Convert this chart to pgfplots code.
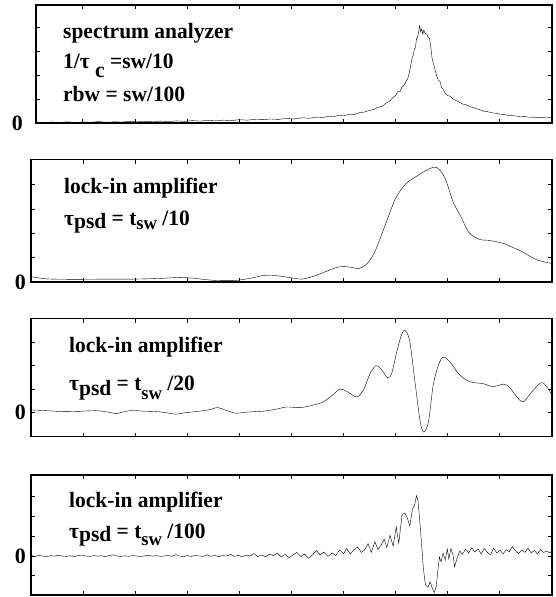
\documentclass[border=0pt]{standalone}
\usepackage{fontspec}
\setmainfont{Liberation Serif}
\usepackage{pgfplots}
\pgfplotsset{compat=1.18}
\newcommand\lab{\fontsize{22}{24}\selectfont\bfseries}
\newcommand\sx[1]{\scalebox{0.98}[1]{#1}}
\pgfplotsset{panel/.style={
  scale only axis, anchor=north west,
  xmin=0, xmax=10, xtick={1,...,9}, xticklabels={},
  yticklabels={},
  tick align=inside, tick pos=both, major tick length=4bp,
  axis line style={line width=1.4bp},
  tick style={line width=0.9bp, black},
  extra y ticks={0}, extra y tick labels={0},
  yticklabel style={font=\fontsize{22}{22}\selectfont\bfseries, inner sep=2bp, xshift=-3bp},
  cycle list={{black, line width=1.05bp, no markers}},
}}
\begin{document}
\begin{tikzpicture}
\useasboundingbox (0,0) rectangle (556bp,-597bp);
% ---------- panel 1
\begin{axis}[panel, at={(36bp,-5bp)}, width=516bp, height=118bp,
  xmin=0.1, ymin=0, ymax=4.95, ytick={1,2,3,4},
  extra y tick style={yticklabel style={xshift=-8bp}}]
\addplot coordinates {
(0.10,0.03)(0.25,0.01)(0.40,0.04)(0.55,0.02)(0.70,0.05)(0.85,0.02)(1.00,0.04)(1.15,0.03)
(1.30,0.06)(1.45,0.03)(1.60,0.05)(1.75,0.04)(1.90,0.07)(2.05,0.05)(2.20,0.07)(2.35,0.05)
(2.50,0.08)(2.65,0.06)(2.80,0.09)(2.95,0.07)(3.10,0.10)(3.25,0.08)(3.40,0.11)(3.55,0.09)
(3.70,0.12)(3.85,0.10)(4.00,0.14)(4.15,0.12)(4.30,0.15)(4.45,0.14)(4.60,0.17)(4.75,0.15)
(4.90,0.19)(5.05,0.17)(5.20,0.22)(5.35,0.20)(5.50,0.25)(5.60,0.23)(5.70,0.28)(5.80,0.26)
(5.90,0.32)(6.00,0.30)(6.10,0.36)(6.20,0.35)(6.30,0.43)(6.40,0.46)(6.50,0.53)(6.58,0.56)
(6.66,0.66)(6.74,0.70)(6.82,0.84)(6.88,0.90)(6.94,1.05)(7.00,1.15)(7.04,1.32)(7.08,1.30)
(7.12,1.50)(7.16,1.58)(7.20,1.75)(7.23,1.85)(7.26,2.10)(7.29,2.45)(7.32,2.75)(7.34,2.85)
(7.36,3.10)(7.38,3.15)(7.40,3.55)(7.42,3.60)(7.44,3.80)(7.46,4.08)(7.48,3.82)(7.50,3.95)
(7.52,3.72)(7.54,3.90)(7.56,3.78)(7.59,3.74)(7.62,3.62)(7.65,3.55)(7.68,3.10)(7.70,2.70)
(7.73,2.45)(7.76,2.20)(7.79,1.95)(7.82,1.78)(7.85,1.75)(7.88,1.50)(7.91,1.42)(7.95,1.25)
(8.00,1.15)(8.05,1.12)(8.12,0.98)(8.20,0.90)(8.28,0.80)(8.36,0.76)(8.44,0.68)(8.52,0.62)
(8.60,0.57)(8.68,0.50)(8.76,0.48)(8.84,0.43)(8.92,0.41)(9.00,0.37)(9.08,0.36)(9.16,0.32)
(9.24,0.31)(9.32,0.29)(9.40,0.26)(9.48,0.27)(9.56,0.24)(9.64,0.25)(9.72,0.22)(9.80,0.24)
(9.88,0.21)(9.96,0.23)(10.0,0.22)};
\end{axis}
% ---------- panel 2
\begin{axis}[panel, at={(31bp,-159.5bp)}, width=521bp, height=122.5bp,
  ymin=0, ymax=5.04, ytick={1,2,3,4}]
\addplot+[smooth, tension=0.5] coordinates {
(0,0.22)(0.3,0.13)(0.8,0.11)(1.5,0.12)(2.0,0.12)(2.5,0.15)(2.85,0.19)(3.1,0.16)(3.5,0.07)
(3.9,0.06)(4.2,0.15)(4.5,0.28)(4.75,0.25)(5.0,0.17)(5.2,0.12)(5.4,0.22)(5.6,0.38)(5.9,0.62)
(6.1,0.62)(6.3,0.56)(6.45,0.75)(6.6,1.25)(6.8,2.35)(7.0,3.45)(7.2,4.05)(7.4,4.35)(7.55,4.55)
(7.74,4.73)(7.85,4.6)(7.97,4.15)(8.1,3.3)(8.25,2.7)(8.4,2.05)(8.6,1.76)(8.8,1.71)(9.05,1.6)
(9.25,1.42)(9.4,1.28)(9.7,0.92)(10,0.76)};
\end{axis}
% ---------- panel 3
\begin{axis}[panel, at={(31bp,-318.5bp)}, width=521bp, height=118bp,
  ymin=-1.04, ymax=4.03, ytick={1,2,3}]
\addplot+[smooth, tension=0.5] coordinates {
(0.0,0.1)(0.3,0.07)(0.6,0.03)(0.9,0.04)(1.24,0.07)(1.45,0.02)(1.63,-0.05)(1.8,0.03)(1.95,0.08)
(2.15,0.05)(2.4,0.03)(2.6,-0.02)(2.78,-0.08)(2.95,-0.02)(3.16,0.03)(3.4,0.1)(3.58,0.2)(3.75,0.08)
(3.93,-0.04)(4.1,0.0)(4.31,0.03)(4.5,0.06)(4.7,0.13)(4.91,0.23)(5.16,0.2)(5.42,0.31)(5.61,0.45)
(5.8,0.76)(5.93,1.0)(6.06,0.9)(6.25,0.66)(6.38,0.96)(6.51,1.67)(6.62,2.0)(6.73,1.83)(6.84,1.5)
(6.92,1.65)(7.02,2.6)(7.11,3.32)(7.18,3.52)(7.27,3.05)(7.37,1.31)(7.47,-0.4)(7.54,-0.85)(7.63,-0.4)
(7.72,1.17)(7.82,2.03)(7.91,2.36)(8.04,2.17)(8.23,1.6)(8.43,1.31)(8.68,1.23)(8.87,1.1)(9.07,1.21)
(9.19,1.06)(9.32,0.67)(9.45,0.45)(9.6,0.85)(9.79,1.27)(9.9,1.1)(10.0,0.74)};
\end{axis}
% ---------- panel 4
\begin{axis}[panel, at={(31bp,-475bp)}, width=521bp, height=120bp,
  ymin=-1.97, ymax=4.09, ytick={-1,1,2,3}]
\addplot coordinates {
(0.00,0.02)(0.08,-0.02)(0.15,0.03)(0.22,0.00)(0.30,-0.03)(0.38,0.02)(0.45,-0.01)(0.52,0.04)
(0.60,0.00)(0.68,-0.02)(0.75,0.01)(0.83,-0.03)(0.90,0.02)(0.98,0.05)(1.05,0.00)(1.13,-0.02)
(1.20,0.02)(1.28,-0.01)(1.35,0.01)(1.43,-0.03)(1.50,0.02)(1.58,0.06)(1.65,0.00)(1.73,-0.02)
(1.80,0.01)(1.88,-0.02)(1.95,0.02)(2.03,0.00)(2.10,-0.03)(2.18,0.01)(2.25,0.04)(2.33,-0.01)
(2.40,0.02)(2.48,-0.02)(2.55,0.00)(2.63,0.03)(2.70,-0.02)(2.78,0.07)(2.85,0.00)(2.93,-0.03)
(3.00,0.02)(3.08,-0.02)(3.15,0.03)(3.23,0.00)(3.30,-0.02)(3.38,0.06)(3.45,-0.01)(3.53,0.02)
(3.60,-0.03)(3.68,0.02)(3.75,0.00)(3.83,0.08)(3.90,-0.02)(3.98,0.03)(4.05,-0.04)(4.13,0.05)
(4.20,0.00)(4.28,0.12)(4.35,-0.03)(4.43,0.06)(4.50,-0.04)(4.58,0.10)(4.65,0.02)(4.73,0.14)
(4.80,-0.04)(4.88,0.08)(4.95,-0.08)(5.03,0.05)(5.10,0.18)(5.18,-0.03)(5.25,0.10)(5.33,-0.12)
(5.40,0.05)(5.48,0.28)(5.55,0.05)(5.62,0.20)(5.70,-0.02)(5.78,0.15)(5.85,0.02)(5.92,0.30)
(6.00,0.12)(6.06,0.38)(6.13,0.10)(6.20,0.32)(6.27,0.45)(6.34,0.18)(6.40,0.30)(6.47,0.62)
(6.53,0.18)(6.60,0.72)(6.66,0.32)(6.72,0.55)(6.78,0.85)(6.83,0.42)(6.89,1.05)(6.95,0.50)
(7.01,1.45)(7.06,0.65)(7.12,2.05)(7.17,2.18)(7.22,1.95)(7.27,1.52)(7.32,2.35)(7.36,2.55)
(7.40,3.05)(7.43,2.75)(7.48,1.20)(7.53,-0.60)(7.57,-1.45)(7.62,-1.58)(7.66,-1.30)(7.70,-1.60)
(7.74,-1.85)(7.78,-1.50)(7.81,-0.70)(7.84,-0.05)(7.87,-0.30)(7.91,0.15)(7.95,-0.20)(7.99,0.35)
(8.02,-0.15)(8.06,0.38)(8.10,0.05)(8.13,-0.55)(8.18,-0.10)(8.23,0.25)(8.28,0.08)(8.34,0.35)
(8.40,0.15)(8.46,0.42)(8.52,0.20)(8.58,0.36)(8.64,0.10)(8.70,0.38)(8.76,0.18)(8.82,0.05)
(8.88,0.40)(8.94,0.15)(9.00,0.30)(9.06,0.10)(9.12,0.32)(9.18,0.22)(9.24,0.48)(9.30,0.25)
(9.36,0.12)(9.42,0.30)(9.48,0.18)(9.54,0.40)(9.60,0.15)(9.66,0.28)(9.72,0.10)(9.78,0.32)
(9.84,0.18)(9.90,0.25)(9.96,0.15)(10.0,0.28)};
\end{axis}
% ---------- labels
\begin{scope}[every node/.style={anchor=base west, inner sep=0pt, font=\lab}]
\node at (63bp,-38bp) {\sx{spectrum analyzer}};
\node at (63bp,-68bp) {\sx{1/τ \raisebox{-9bp}{c} =sw/10}};
\node at (63bp,-101bp) {\sx{rbw = sw/100}};
\node at (64bp,-193bp) {\sx{lock-in amplifier}};
\node at (64bp,-225bp) {\sx{τ\raisebox{-3bp}{psd} = t\raisebox{-4bp}{\fontsize{19}{19}\selectfont sw} /10}};
\node at (69bp,-352bp) {\sx{lock-in amplifier}};
\node at (69bp,-390bp) {\sx{τ\raisebox{-5bp}{psd} = t\raisebox{-9bp}{\fontsize{19}{19}\selectfont sw} /20}};
\node at (69bp,-507bp) {\sx{lock-in amplifier}};
\node at (69bp,-538.5bp) {\sx{τ\raisebox{-3bp}{psd} = t\raisebox{-7bp}{\fontsize{19}{19}\selectfont sw} /100}};
\end{scope}
\end{tikzpicture}
\end{document}
